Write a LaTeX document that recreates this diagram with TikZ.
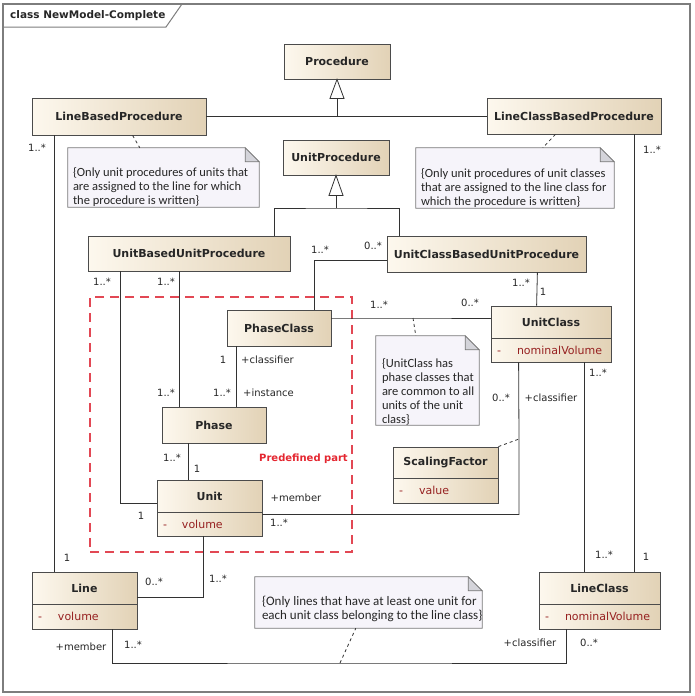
\documentclass[tikz,border=0pt]{standalone}
\usepackage{fontspec}
\setmainfont{DejaVu Sans}
\newfontfamily\notefont{Carlito}
\usetikzlibrary{calc}
\definecolor{clsL}{RGB}{253,248,238}
\definecolor{clsR}{RGB}{226,210,182}
\definecolor{clsB}{RGB}{75,75,75}
\definecolor{attrC}{RGB}{150,32,32}
\definecolor{noteF}{RGB}{246,244,250}
\definecolor{noteB}{RGB}{120,120,120}
\definecolor{foldF}{RGB}{212,212,218}
\definecolor{frameC}{RGB}{125,125,125}
\definecolor{lineC}{RGB}{50,50,50}
\definecolor{predC}{RGB}{226,72,84}
\definecolor{predT}{RGB}{228,38,48}
\newcommand{\drawnote}[1]{%
  \filldraw[fill=noteF,draw=noteB,line width=0.8pt] (#1.south west) -- (#1.north west) -- ([xshift=-14pt]#1.north east) -- ([yshift=-14pt]#1.north east) -- (#1.south east) -- cycle;
  \filldraw[fill=foldF,draw=noteB,line width=0.8pt] ([xshift=-14pt]#1.north east) -- ([xshift=-14pt,yshift=-14pt]#1.north east) -- ([yshift=-14pt]#1.north east) -- cycle;}
\begin{document}
\begin{tikzpicture}[x=1pt,y=-1pt,
  cls/.style={draw=clsB, line width=0.8pt, left color=clsL, right color=clsR, inner sep=0pt, font=\fontsize{11}{13}\selectfont\bfseries, text=black!85},
  clsattr/.style={draw=clsB, line width=0.8pt, left color=clsL, right color=clsR, inner xsep=6pt, inner ysep=0pt, font=\fontsize{11}{13}\selectfont, text=attrC, align=left},
  notebox/.style={inner sep=0pt},
  notetext/.style={inner sep=0pt, font=\notefont\fontsize{12.5}{14}\selectfont, align=left, text=black!85},
  lbl/.style={inner sep=0pt, font=\fontsize{10}{12}\selectfont, text=black!85},
  conn/.style={draw=lineC, line width=0.8pt},
  gentri/.style={draw=lineC, line width=0.8pt, fill=white},
  notelink/.style={draw=lineC, line width=0.8pt, dash pattern=on 3pt off 3pt},
]
\useasboundingbox (0,0) rectangle (695,696);
% frame
\draw[frameC, line width=1.5pt] (3,4) rectangle (690,692);
\draw[frameC, line width=1pt] (3,27) -- (166,27) -- (182,4);
\node[anchor=west, inner sep=0pt, font=\fontsize{10.5}{12}\selectfont\bfseries, text=black!85] (title) at (10,15.5) {class NewModel-Complete};

% predefined part
\node[draw=predC, line width=1.5pt, dash pattern=on 9pt off 6pt, minimum width=262pt, minimum height=255pt, inner sep=0pt] (predef) at (221,424.5) {};
\node[inner sep=0pt, font=\fontsize{10}{12}\selectfont\bfseries, text=predT] (predlbl) at (303.5,459) {Predefined part};

% classes
\node[cls, minimum width=106pt, minimum height=35pt] (proc) at (337,61.5) {Procedure};
\node[cls, minimum width=174pt, minimum height=37pt] (lbp) at (119,116.5) {LineBasedProcedure};
\node[cls, minimum width=174pt, minimum height=36pt] (lcbp) at (574,116) {LineClassBasedProcedure};
\node[cls, minimum width=106pt, minimum height=35pt] (uproc) at (336,157.5) {UnitProcedure};
\node[cls, minimum width=202pt, minimum height=35pt] (ubup) at (189,253.5) {UnitBasedUnitProcedure};
\node[cls, minimum width=199pt, minimum height=36pt] (ucbup) at (486.5,254) {UnitClassBasedUnitProcedure};
\node[cls, minimum width=104pt, minimum height=36pt] (phc) at (279,328) {PhaseClass};
\node[cls, minimum width=104pt, minimum height=36pt] (phase) at (214,425) {Phase};
\node[cls, minimum width=105pt, minimum height=32pt] (unit) at (209.5,496) {Unit};
\node[clsattr, text width=93pt, minimum height=24pt] (unitA) at (209.5,524) {\makebox[19pt][l]{-}volume};
\node[cls, minimum width=120pt, minimum height=32pt] (ucl) at (551,322) {UnitClass};
\node[clsattr, text width=108pt, minimum height=24pt] (uclA) at (551,350) {\makebox[20pt][l]{-}nominalVolume};
\node[cls, minimum width=105pt, minimum height=31pt] (sf) at (445.5,462.5) {ScalingFactor};
\node[clsattr, text width=93pt, minimum height=25pt] (sfA) at (445.5,490.5) {\makebox[20pt][l]{-}value};
\node[cls, minimum width=105pt, minimum height=32pt] (line) at (84.5,588) {Line};
\node[clsattr, text width=93pt, minimum height=25pt] (lineA) at (84.5,616.5) {\makebox[20pt][l]{-}volume};
\node[cls, minimum width=121pt, minimum height=32pt] (lcl) at (599.5,588) {LineClass};
\node[clsattr, text width=109pt, minimum height=25pt] (lclA) at (599.5,616.5) {\makebox[20pt][l]{-}nominalVolume};

% notes
\node[notebox, minimum width=191pt, minimum height=59pt] (n1) at (163.5,177.5) {};
\drawnote{n1}
\node[notetext, anchor=south west] (n1t) at ([shift={(5pt,0pt)}]n1.south west) {\{Only unit procedures of units that\\are assigned to the line for which\\the procedure is written\}};
\node[notebox, minimum width=198pt, minimum height=60pt] (n2) at (515,178) {};
\drawnote{n2}
\node[notetext, anchor=south west] (n2t) at ([shift={(5pt,0pt)}]n2.south west) {\{Only unit procedures of unit classes\\that are assigned to the line class for\\which the procedure is written\}};
\node[notebox, minimum width=103pt, minimum height=89pt] (n3) at (427.5,380.5) {};
\drawnote{n3}
\node[notetext, anchor=south west] (n3t) at ([shift={(6pt,0pt)}]n3.south west) {\{UnitClass has\\phase classes that\\are common to all\\units of the unit\\class\}};
\node[notebox, minimum width=227pt, minimum height=51pt] (n4) at (368.5,602.5) {};
\drawnote{n4}
\node[notetext, font=\notefont\fontsize{13}{14}\selectfont, anchor=south west] (n4t) at ([shift={(7pt,6pt)}]n4.south west) {\{Only lines that have at least one unit for\\each unit class belonging to the line class\}};

% generalizations
\coordinate (gj) at (336,208);
\draw[conn] (proc.south) ++(0,19) -- (proc.south |- lbp.east);
\draw[conn] (lbp.east) -- (lbp.east -| lcbp.west);
\draw[gentri] (proc.south) -- ++(-7,19) -- ++(14,0) -- cycle;
\draw[conn] (uproc.south) ++(0,20) -- (gj);
\draw[conn] ([xshift=-16pt]ubup.north east) |- (gj) -| ([xshift=13pt]ucbup.north west);
\draw[gentri] (uproc.south) -- ++(-7,20) -- ++(14,0) -- cycle;

% note links
\draw[notelink] ([xshift=101pt]lbp.south west) -- ([xshift=72pt]n1.north west);
\draw[notelink] ([xshift=-106pt]lcbp.south east) -- ([xshift=127pt]n2.north west);
\coordinate (pcuc) at (413,318);
\draw[notelink] (pcuc) -- ([xshift=40pt]n3.north west);
\coordinate (aclink) at (519,439);
\draw[notelink] (sf.north east) -- (aclink);
\coordinate (llc) at (340,663);
\draw[notelink] (llc) -- ([xshift=101pt]n4.south west);

% associations
\draw[conn] ([xshift=23pt]lbp.south west) -- ([xshift=23pt]line.north west);
\draw[conn] ([xshift=-27pt]lcbp.south east) -- ([xshift=-26pt]lcl.north east);
\draw[conn] ([xshift=33pt]ubup.south west) |- ([yshift=-7pt]unit.west);
\draw[conn] ([xshift=92pt]ubup.south west) -- ([xshift=18pt]phase.north west);
\draw[conn] ([yshift=-6pt]ucbup.west) -| ([xshift=-17pt]phc.north east);
\draw[conn] ([xshift=10pt]phc.south west) -- ([xshift=75pt]phase.north west);
\draw[conn] ([xshift=27pt]phase.south west) -- ([xshift=32pt]unit.north west);
\draw[conn] ([yshift=10pt]phc.east) -- (pcuc) -- ([yshift=10pt]phc.east -| ucl.west);
\draw[conn] ([xshift=-49pt]ucbup.south east) -- ([xshift=46pt]ucl.north west);
\draw[conn] ([yshift=-2pt]unit.south east) -| (aclink) -- ([xshift=28pt]uclA.south west);
\draw[conn] ([xshift=94pt]uclA.south west) -- ([xshift=46pt]lcl.north west);
\draw[conn] ([xshift=47pt]unitA.south west) |- ([yshift=-9pt]line.east);
\draw[conn] ([xshift=81pt]lineA.south west) |- (llc) -| ([xshift=28pt]lclA.south west);

% multiplicity / role labels
\node[lbl] (m1) at (37,148) {1..*};
\node[lbl] (m2) at (652,150) {1..*};
\node[lbl] (m3) at (102,282) {1..*};
\node[lbl] (m4) at (166,282) {1..*};
\node[lbl] (m5) at (320,250) {1..*};
\node[lbl] (m6) at (373,246) {0..*};
\node[lbl] (m7) at (223,360) {1};
\node[lbl] (r1) at (267.5,360) {+classifier};
\node[lbl] (m8) at (222,393) {1..*};
\node[lbl] (r2) at (268.5,393) {+instance};
\node[lbl] (m9) at (166,393) {1..*};
\node[lbl] (m10) at (172,458) {1..*};
\node[lbl] (m11) at (197,469) {1};
\node[lbl] (r3) at (296,498) {+member};
\node[lbl] (m12) at (279,523) {1..*};
\node[lbl] (m13) at (141,516) {1};
\node[lbl] (m14) at (379,305) {1..*};
\node[lbl] (m15) at (470,303) {0..*};
\node[lbl] (m16) at (521,283) {1..*};
\node[lbl] (m17) at (543,292) {1};
\node[lbl] (m18) at (598,373) {1..*};
\node[lbl] (m19) at (604,555) {1..*};
\node[lbl] (m20) at (646,557) {1};
\node[lbl] (m21) at (501,398) {0..*};
\node[lbl] (r4) at (551,398) {+classifier};
\node[lbl] (m22) at (67,558) {1};
\node[lbl] (m23) at (154,582) {0..*};
\node[lbl] (m24) at (218,579) {1..*};
\node[lbl] (r5) at (81,647) {+member};
\node[lbl] (m25) at (133,645) {1..*};
\node[lbl] (r6) at (530,643) {+classifier};
\node[lbl] (m26) at (589,643) {0..*};
\end{tikzpicture}
\end{document}
